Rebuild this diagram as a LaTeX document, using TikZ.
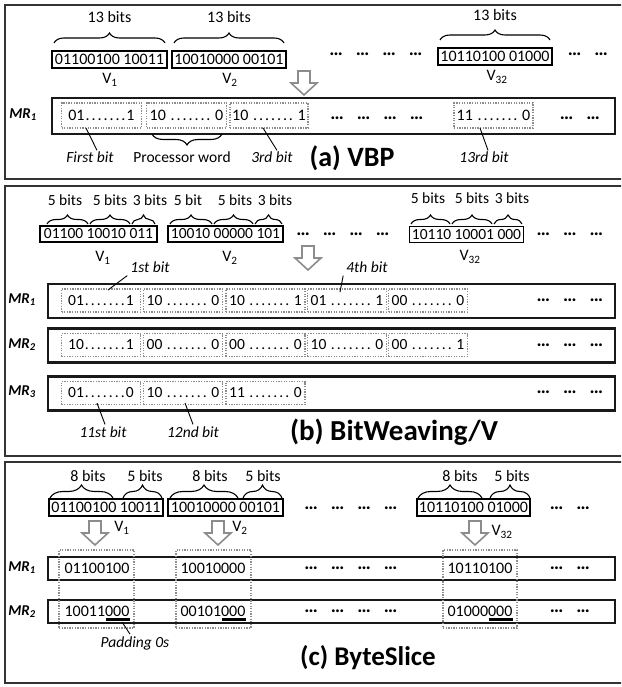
\documentclass[tikz,border=0pt]{standalone}
\usepackage{fontspec}
\setmainfont{Carlito}
\usetikzlibrary{decorations.pathreplacing,calc}
\newcommand{\dd}{\makebox[6pt]{.}}
\newcommand{\dseven}{\dd\dd\dd\dd\dd\dd\dd}
\newcommand{\grp}{{\fontsize{19}{19}\selectfont\textbf{…}}}
\newcommand{\gsep}{\hspace{13pt}}
\begin{document}
\begin{tikzpicture}[x=1pt,y=-1pt,
  every node/.style={inner sep=0pt, font=\fontsize{16}{19}\selectfont},
  frame/.style={draw=black!80, line width=2.5pt},
  vbox/.style={draw=black, line width=1.8pt},
  mrbox/.style={draw=black!90, line width=2.2pt},
  dbox/.style={draw=black!45, line width=1.3pt, dash pattern=on 1.3pt off 1.3pt},
  arr/.style={draw=black!45, line width=1.6pt, fill=white, line join=miter},
  brc/.style={decorate, decoration={brace, amplitude=#1}, line width=1.1pt},
  brc/.default=10pt,
  small/.style={font=\fontsize{15.5}{18}\selectfont},
  note/.style={font=\fontsize{15.5}{18}\selectfont\itshape},
  mrl/.style={font=\fontsize{15}{18}\selectfont\bfseries\itshape},
  lead/.style={draw=black, line width=0.9pt},
  pad/.style={draw=black, line width=2.6pt},
  downarr/.pic={\draw[arr] (-6,0) -- (-6,12) -- (-13,12) -- (0,24) -- (13,12) -- (6,12) -- (6,0) -- cycle;}
]
\useasboundingbox (0,0) rectangle (621,687);
\begin{scope}
\clip (0,0) rectangle (621,687);
\draw[frame] (5,5) rectangle (640,179);
\draw[frame] (5,186) rectangle (640,456);
\draw[frame] (5,462) rectangle (640,683);
\end{scope}

% ================= (a) VBP =================
\node (aL1) at (109.5,17) {13 bits};
\node (aL2) at (229,17) {13 bits};
\node (aL3) at (495,15) {13 bits};
\draw[brc=10pt] (54,43) -- (165,43);
\draw[brc=10pt] (174,43) -- (284,43);
\draw[brc=10pt] (440,40) -- (550,40);
\node[vbox, minimum width=115pt, minimum height=17pt] (aV1) at (109.5,59.5) {01100100 10011};
\node[vbox, minimum width=114pt, minimum height=17pt] (aV2) at (229,59.5) {10010000 00101};
\node[vbox, minimum width=114pt, minimum height=17pt] (aV3) at (495,56.5) {10110100 01000};
\node (aN1) at (110,80) {V\textsubscript{1}};
\node (aN2) at (230,80) {V\textsubscript{2}};
\node (aN3) at (497,77) {V\textsubscript{32}};
\node (aD1) at (376,54) {\grp\gsep\grp\gsep\grp\gsep\grp};
\node (aD2) at (588,54) {\grp\gsep\grp};
\pic (aArr) at (304,71) {downarr};
\node[mrbox, minimum width=563pt, minimum height=36pt] (aMR) at (333.5,116) {};
\node[mrl] (aMRl) at (23,115) {MR\textsubscript{1}};
\node[dbox, minimum width=80pt, minimum height=25pt] (aB1) at (101.5,115.5) {01\dseven1};
\node[dbox, minimum width=80pt, minimum height=25pt] (aB2) at (186.5,115.5) {10 \dseven{} 0};
\node[dbox, minimum width=78pt, minimum height=25pt] (aB3) at (269,115.5) {10 \dseven{} 1};
\node[dbox, minimum width=79pt, minimum height=25pt] (aB4) at (493.5,115.5) {11 \dseven{} 0};
\node (aD3) at (377,118) {\grp\gsep\grp\gsep\grp\gsep\grp};
\node (aD4) at (580,118) {\grp\gsep\grp};
\node[note] (aT1) at (90,157) {First bit};
\node[small] (aT2) at (182,157) {Processor word};
\node[note] (aT3) at (272,157) {3rd bit};
\node[note] (aT4) at (484,157) {13rd bit};
\coordinate (aP1) at (86,128);
\coordinate (aP3) at (263,128);
\coordinate (aP4) at (480,128);
\draw[lead] (aP1) -- ($(aT1.north)+(7,-1)$);
\draw[lead] (aP3) -- ($(aT3.north)+(5,-1)$);
\draw[lead] (aP4) -- ($(aT4.north)+(4,-1)$);
\draw[brc=11pt] (222,134) -- (152,134);
\node[font=\fontsize{28}{31}\selectfont\bfseries] (aTitle) at (352,158) {(a) VBP};

% ================= (b) BitWeaving/V =================
\node[small] (bL1) at (65,200) {5 bits};
\node[small] (bL2) at (110,200) {5 bits};
\node[small] (bL3) at (150,200) {3 bits};
\node[small] (bL4) at (188,200) {5 bit};
\node[small] (bL5) at (235,200) {5 bits};
\node[small] (bL6) at (275,200) {3 bits};
\node[small] (bL7) at (428,198) {5 bits};
\node[small] (bL8) at (472,198) {5 bits};
\node[small] (bL9) at (512,198) {3 bits};
\draw[brc=9pt] (47,224) -- (88,224);
\draw[brc=9pt] (90,224) -- (130,224);
\draw[brc=9pt] (132,224) -- (155,224);
\draw[brc=9pt] (170,224) -- (212,224);
\draw[brc=9pt] (214,224) -- (253,224);
\draw[brc=9pt] (255,224) -- (282,224);
\draw[brc=9pt] (411,224) -- (450,224);
\draw[brc=9pt] (452,224) -- (492,224);
\draw[brc=9pt] (494,224) -- (522,224);
\node[vbox, small, minimum width=117pt, minimum height=16pt] (bV1) at (98.5,234) {01100 10010 011};
\node[vbox, small, minimum width=115pt, minimum height=16pt] (bV2) at (225.5,234) {10010 00000 101};
\node[vbox, small, minimum width=114pt, minimum height=16pt] (bV3) at (466.5,234.5) {10110 10001 000};
\node (bN1) at (103,258) {V\textsubscript{1}};
\node (bN2) at (230,258) {V\textsubscript{2}};
\node (bN3) at (470,257) {V\textsubscript{32}};
\node (bD1) at (343,234) {\grp\gsep\grp\gsep\grp\gsep\grp};
\node (bD2) at (570,234) {\grp\gsep\grp\gsep\grp};
\pic (bArr) at (308,246) {downarr};
% rows
\node[mrbox, minimum width=567pt, minimum height=34pt] (bMR1) at (331.5,301) {};
\node[mrbox, minimum width=567pt, minimum height=34pt] (bMR2) at (331.5,345.5) {};
\node[mrbox, minimum width=567pt, minimum height=34pt] (bMR3) at (331.5,393.5) {};
\node[mrl] (bMRl1) at (22,300) {MR\textsubscript{1}};
\node[mrl] (bMRl2) at (22,345) {MR\textsubscript{2}};
\node[mrl] (bMRl3) at (22,392) {MR\textsubscript{3}};
\node[dbox, small, minimum width=79pt, minimum height=23pt] (b11) at (101,300.5) {01\dseven1};
\node[dbox, small, minimum width=79pt, minimum height=23pt] (b12) at (183,300.5) {10 \dseven{} 0};
\node[dbox, small, minimum width=79pt, minimum height=23pt] (b13) at (265.5,300.5) {10 \dseven{} 1};
\node[dbox, small, minimum width=79pt, minimum height=23pt] (b14) at (347,300.5) {01 \dseven{} 1};
\node[dbox, small, minimum width=79pt, minimum height=23pt] (b15) at (428,300.5) {00 \dseven{} 0};
\node[dbox, small, minimum width=79pt, minimum height=23pt] (b21) at (101,345) {10\dseven1};
\node[dbox, small, minimum width=79pt, minimum height=23pt] (b22) at (183,345) {00 \dseven{} 0};
\node[dbox, small, minimum width=79pt, minimum height=23pt] (b23) at (265.5,345) {00 \dseven{} 0};
\node[dbox, small, minimum width=79pt, minimum height=23pt] (b24) at (347,345) {10 \dseven{} 0};
\node[dbox, small, minimum width=79pt, minimum height=23pt] (b25) at (428,345) {00 \dseven{} 1};
\node[dbox, small, minimum width=79pt, minimum height=23pt] (b31) at (101,393) {01\dseven0};
\node[dbox, small, minimum width=79pt, minimum height=23pt] (b32) at (183,393) {10 \dseven{} 0};
\node[dbox, small, minimum width=79pt, minimum height=23pt] (b33) at (265.5,393) {11 \dseven{} 0};
\node (bD3) at (570,300) {\grp\gsep\grp\gsep\grp};
\node (bD4) at (570,345) {\grp\gsep\grp\gsep\grp};
\node (bD5) at (570,392) {\grp\gsep\grp\gsep\grp};
\node[note] (bT1) at (150,267) {1st bit};
\node[note] (bT2) at (367,267) {4th bit};
\node[note] (bT3) at (103,432) {11st bit};
\node[note] (bT4) at (193,432) {12nd bit};
\coordinate (bP1) at (108,290);
\coordinate (bP2) at (340,292);
\coordinate (bP3) at (97,403);
\coordinate (bP4) at (185,403);
\draw[lead] (bP1) -- ($(bT1.south west)+(-3,3)$);
\draw[lead] (bP2) -- ($(bT2.south west)+(-3,3)$);
\draw[lead] (bP3) -- ($(bT3.north)+(2,-2)$);
\draw[lead] (bP4) -- ($(bT4.north)+(0,-2)$);
\node[font=\fontsize{29}{32}\selectfont\bfseries] (bTitle) at (394,432) {(b) BitWeaving/V};

% ================= (c) ByteSlice =================
\node (cL1) at (88,476) {8 bits};
\node (cL2) at (145,476) {5 bits};
\node (cL3) at (210,476) {8 bits};
\node (cL4) at (263,476) {5 bits};
\node (cL5) at (460,476) {8 bits};
\node (cL6) at (512,476) {5 bits};
\draw[brc=13pt] (50,498) -- (113,498);
\draw[brc=13pt] (123,498) -- (162,498);
\draw[brc=13pt] (170,498) -- (238,498);
\draw[brc=13pt] (243,498) -- (282,498);
\draw[brc=13pt] (418,498) -- (482,498);
\draw[brc=13pt] (490,498) -- (530,498);
\node[vbox, minimum width=114pt, minimum height=17pt] (cV1) at (106,507.5) {01100100 10011};
\node[vbox, minimum width=115pt, minimum height=17pt] (cV2) at (225.5,507.5) {10010000 00101};
\node[vbox, minimum width=113pt, minimum height=17pt] (cV3) at (473.5,507.5) {10110100 01000};
\node (cD1) at (351,508) {\grp\gsep\grp\gsep\grp\gsep\grp};
\node (cD2) at (570,508) {\grp\gsep\grp};
\pic (cArr1) at (95,521) {downarr};
\pic (cArr2) at (218,521) {downarr};
\pic (cArr3) at (475,521) {downarr};
\node (cN1) at (122,528) {V\textsubscript{1}};
\node (cN2) at (240,528) {V\textsubscript{2}};
\node (cN3) at (502,532) {V\textsubscript{32}};
\node[mrbox, minimum width=567pt, minimum height=23pt] (cMR1) at (331.5,568.5) {};
\node[mrbox, minimum width=567pt, minimum height=23pt] (cMR2) at (331.5,611.5) {};
\node[mrl] (cMRl1) at (22,568) {MR\textsubscript{1}};
\node[mrl] (cMRl2) at (22,612) {MR\textsubscript{2}};
\node[dbox, minimum width=75pt, minimum height=78pt] (cC1) at (96.5,589) {};
\node[dbox, minimum width=75pt, minimum height=78pt] (cC2) at (213.5,589) {};
\node[dbox, minimum width=74pt, minimum height=78pt] (cC3) at (480,589) {};
\node (c11) at (97,568) {01100100};
\node (c12) at (213,568) {10010000};
\node (c13) at (480,568) {10110100};
\node (c21) at (97,611) {10011000};
\node (c22) at (213,611) {00101000};
\node (c23) at (480,611) {01000000};
\node (cD3) at (351,568) {\grp\gsep\grp\gsep\grp\gsep\grp};
\node (cD4) at (570,568) {\grp\gsep\grp};
\node (cD5) at (351,611) {\grp\gsep\grp\gsep\grp\gsep\grp};
\node (cD6) at (570,611) {\grp\gsep\grp};
\draw[pad] ($(c21.base east)+(-24,3.5)$) -- ($(c21.base east)+(0,3.5)$);
\draw[pad] ($(c22.base east)+(-24,3.5)$) -- ($(c22.base east)+(0,3.5)$);
\draw[pad] ($(c23.base east)+(-24,3.5)$) -- ($(c23.base east)+(0,3.5)$);
\node[note] (cT1) at (135,643) {Padding 0s};
\coordinate (cP1) at (122,622);
\draw[lead] (cP1) -- ($(cT1.north)+(-5,-2)$);
\node[font=\fontsize{27}{30}\selectfont\bfseries] (cTitle) at (368,658) {(c) ByteSlice};
\end{tikzpicture}
\end{document}
